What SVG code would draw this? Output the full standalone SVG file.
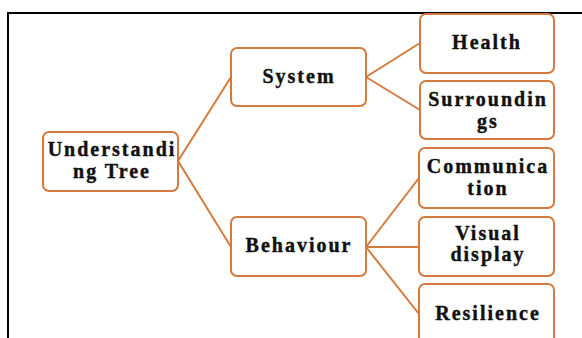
<svg xmlns="http://www.w3.org/2000/svg" width="582" height="338" viewBox="0 0 582 338">
<style>
.box{fill:#fff;stroke:#D47A3C;stroke-width:2}
.ln{stroke:#D47A3C;stroke-width:2;fill:none}
text{font-family:"Liberation Serif","Times New Roman",serif;font-weight:bold;font-size:20px;fill:#111;stroke:#111;stroke-width:0.4;text-anchor:middle;letter-spacing:2px}
</style>
<rect x="0" y="0" width="582" height="338" fill="#fff"/>
<path d="M8 340 V13 H590" fill="none" stroke="#000" stroke-width="2"/>
<g id="connectors">
<path class="ln" d="M178 161 L231 77 M178 161 L231 247"/>
<path class="ln" d="M366 77 L420 43 M366 77 L420 110"/>
<path class="ln" d="M366 247 L419 178 M366 247 L419 247 M366 247 L419 314"/>
</g>
<g id="understanding">
<rect class="box" x="43" y="132" width="135" height="59" rx="6"/>
<text x="112" y="156">Understandi</text>
<text x="112" y="178">ng Tree</text>
</g>
<g id="system">
<rect class="box" x="231" y="48" width="135" height="58" rx="6"/>
<text x="299" y="83">System</text>
</g>
<g id="behaviour">
<rect class="box" x="231" y="217" width="135" height="59" rx="6"/>
<text x="299" y="252">Behaviour</text>
</g>
<g id="health">
<rect class="box" x="420" y="14" width="134" height="59" rx="6"/>
<text x="487" y="49">Health</text>
</g>
<g id="surroundings">
<rect class="box" x="420" y="81" width="134" height="58" rx="6"/>
<text x="488" y="106">Surroundin</text>
<text x="488" y="128">gs</text>
</g>
<g id="communication">
<rect class="box" x="419" y="148" width="135" height="60" rx="6"/>
<text x="488" y="173">Communica</text>
<text x="488" y="195">tion</text>
</g>
<g id="visual">
<rect class="box" x="419" y="217" width="135" height="59" rx="6"/>
<text x="488" y="240">Visual</text>
<text x="488" y="261">display</text>
</g>
<g id="resilience">
<rect class="box" x="419" y="284" width="135" height="62" rx="6"/>
<text x="488" y="320">Resilience</text>
</g>
</svg>
